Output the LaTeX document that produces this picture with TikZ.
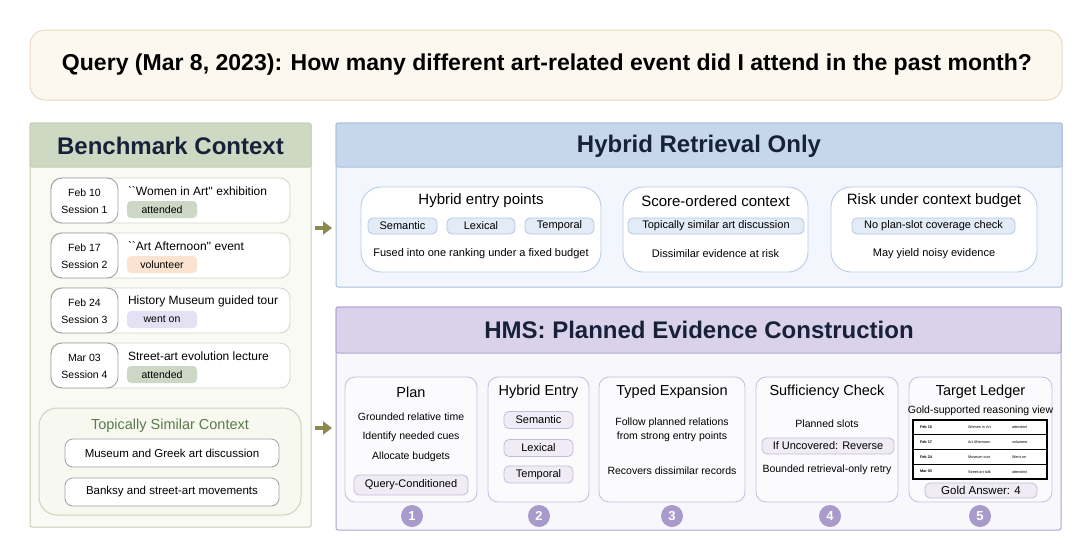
\documentclass[tikz,border=0pt]{standalone}
\usepackage{fontspec}
\usepackage{graphicx}
\setmainfont{Liberation Sans}[Ligatures=TeXOff]
\usetikzlibrary{arrows.meta}
\definecolor{qfill}{HTML}{FCF8F0}
\definecolor{qline}{HTML}{EAD9BF}
\definecolor{navy}{HTML}{17213A}
\definecolor{bhead}{HTML}{CDD9C2}
\definecolor{bline}{HTML}{C3CFB6}
\definecolor{bbody}{HTML}{F8FAF3}
\definecolor{cardline}{HTML}{D3DACB}
\definecolor{pillline}{HTML}{A0A0A0}
\definecolor{tagatt}{HTML}{CDD7C5}
\definecolor{tagvol}{HTML}{FBE3D0}
\definecolor{tagwent}{HTML}{E4E1F5}
\definecolor{topline}{HTML}{C9D4BD}
\definecolor{topfill}{HTML}{F7F9F1}
\definecolor{topgreen}{HTML}{5B7A49}
\definecolor{hhead}{HTML}{C6D6EB}
\definecolor{hline}{HTML}{A9C1DF}
\definecolor{hbody}{HTML}{F3F6FC}
\definecolor{hsub}{HTML}{B7CCE6}
\definecolor{hchip}{HTML}{E3EBF6}
\definecolor{hchipline}{HTML}{B2C7E3}
\definecolor{mhead}{HTML}{D9D2EA}
\definecolor{mline}{HTML}{AFA4CF}
\definecolor{mbody}{HTML}{F8F7FB}
\definecolor{msub}{HTML}{C9C0E0}
\definecolor{msubfill}{HTML}{FBFAFD}
\definecolor{mchip}{HTML}{EFECF5}
\definecolor{mchipline}{HTML}{C4BCDB}
\definecolor{mcirc}{HTML}{A89BCB}
\definecolor{arrowc}{HTML}{8B8A52}
\newcommand\bx[6]{\node[#2,anchor=north west,minimum width={(#5-#3)*1pt},minimum height={(#6-#4)*1pt}] (#1) at (#3,#4) {};}
\begin{document}
\begin{tikzpicture}[x=1pt,y=-1pt,
  every node/.style={inner sep=0pt,outer sep=0pt},
  headtitle/.style={font=\bfseries\fontsize{24}{28}\selectfont,text=navy},
  card/.style={draw=cardline,fill=white,line width=0.9pt,rounded corners=10pt},
  datepill/.style={draw=pillline,fill=white,line width=0.9pt,rounded corners=11pt},
  tagbox/.style={rounded corners=4pt,minimum width=70pt,minimum height=17pt,font=\fontsize{10.5}{12}\selectfont},
  simbox/.style={draw=pillline,fill=white,line width=0.8pt,rounded corners=8pt,minimum width=214pt,minimum height=28pt,font=\fontsize{11.5}{13}\selectfont},
  hsubbox/.style={draw=hsub,fill=white,line width=0.9pt,rounded corners=20pt},
  hchipbox/.style={draw=hchipline,fill=hchip,line width=0.8pt,rounded corners=5pt,minimum height=16pt,font=\fontsize{11}{13}\selectfont},
  subtitle/.style={font=\fontsize{15}{18}\selectfont},
  caption/.style={font=\fontsize{11}{13}\selectfont},
  msubbox/.style={draw=msub,fill=msubfill,line width=0.9pt,rounded corners=10pt},
  mchipbox/.style={draw=mchipline,fill=mchip,line width=0.8pt,rounded corners=5pt,minimum height=17pt,font=\fontsize{11}{13}\selectfont},
  stagetitle/.style={font=\fontsize{14.5}{17}\selectfont},
  stagetxt/.style={font=\fontsize{10.5}{14}\selectfont,align=center},
  numc/.style={circle,fill=mcirc,minimum size=22pt,text=white,font=\bfseries\fontsize{13}{15}\selectfont},
  ledg/.style={font=\fontsize{3.8}{4.5}\selectfont,anchor=west},
  flow/.style={draw=arrowc,line width=4pt,-{Triangle[length=9pt,width=13pt]}},
]
\useasboundingbox[fill=white] (0,0) rectangle (1080,560);

% Query
\bx{query}{draw=qline,fill=qfill,line width=1pt,rounded corners=15pt}{30}{30}{1062}{100}
\node (qtext) at (547,65) {\resizebox{970pt}{\height}{\bfseries\fontsize{23}{27}\selectfont Query (Mar 8, 2023): How many different art-related event did I attend in the past month?}};

% Benchmark panel
\bx{bench}{draw=bline,fill=bbody,line width=1pt,rounded corners=2pt}{30}{123}{311}{527}
\path[draw=bline,fill=bhead,line width=1pt,rounded corners=2pt] (bench.north west) rectangle (311,167);
\node[headtitle] (benchtitle) at (170.5,146) {Benchmark Context};

\foreach \i/\d/\t/\tg/\col in {1/Feb 10/{``Women in Art'' exhibition}/attended/tagatt,
  2/Feb 17/{``Art Afternoon'' event}/volunteer/tagvol,
  3/Feb 24/{History Museum guided tour}/went on/tagwent,
  4/Mar 03/{Street-art evolution lecture}/attended/tagatt}{
  \pgfmathsetmacro\y{178+55*(\i-1)}
  \bx{card\i}{card}{51}{\y}{290}{\y+45}
  \bx{dp\i}{datepill}{51}{\y}{118}{\y+45}
  \node[font=\fontsize{10.5}{12}\selectfont] (dt\i) at (84.5,\y+15) {\d};
  \node[font=\fontsize{10.5}{12}\selectfont] (ss\i) at (84.5,\y+32) {Session \i};
  \node[anchor=west,font=\fontsize{12}{14}\selectfont] (tt\i) at (128,\y+13) {\t};
  \node[tagbox,fill=\col] (tg\i) at (162,\y+31.5) {\tg};
}

\bx{topic}{draw=topline,fill=topfill,line width=1pt,rounded corners=18pt}{39}{408}{301}{515}
\node[font=\fontsize{14.5}{17}\selectfont,text=topgreen] (toptitle) at (170,426) {Topically Similar Context};
\node[simbox] (sim1) at (172,453) {Museum and Greek art discussion};
\node[simbox] (sim2) at (172,492) {Banksy and street-art movements};

% arrows
\coordinate (ar1a) at (315,228);
\coordinate (ar1b) at (332,228);
\coordinate (ar2a) at (315,428);
\coordinate (ar2b) at (332,428);
\draw[flow] (ar1a) -- (ar1b);
\draw[flow] (ar2a) -- (ar2b);

% Hybrid retrieval panel
\bx{hyb}{draw=hline,fill=hbody,line width=1pt,rounded corners=2pt}{336}{123}{1062}{287}
\path[draw=hline,fill=hhead,line width=1pt,rounded corners=2pt] (hyb.north west) rectangle (1062,167);
\node[headtitle] (hybtitle) at (699,146) {Hybrid Retrieval Only};

\bx{hb1}{hsubbox}{361}{187}{601}{272}
\bx{hb2}{hsubbox}{623}{187}{808}{272}
\bx{hb3}{hsubbox}{831}{187}{1037}{272}
\node[subtitle] (hb1t) at (481,201) {Hybrid entry points};
\node[subtitle] (hb2t) at (715.5,201) {Score-ordered context};
\node[subtitle] (hb3t) at (934,201) {Risk under context budget};
\node[hchipbox,minimum width=69pt] (hc1) at (402.5,226) {Semantic};
\node[hchipbox,minimum width=68pt] (hc2) at (481,226) {Lexical};
\node[hchipbox,minimum width=69pt] (hc3) at (559.5,226) {Temporal};
\node[hchipbox,minimum width=176pt] (hc4) at (716,226) {Topically similar art discussion};
\node[hchipbox,minimum width=163pt] (hc5) at (933.5,226) {No plan-slot coverage check};
\node[caption] (hcap1) at (481,254) {Fused into one ranking under a fixed budget};
\node[caption] (hcap2) at (715.5,254) {Dissimilar evidence at risk};
\node[caption] (hcap3) at (934,254) {May yield noisy evidence};

% HMS panel
\bx{hms}{draw=mline,fill=mbody,line width=1pt,rounded corners=2pt}{336}{307}{1061}{530}
\path[draw=mline,fill=mhead,line width=1pt,rounded corners=2pt] (hms.north west) rectangle (1061,353);
\node[headtitle] (hmstitle) at (699,330) {HMS: Planned Evidence Construction};

\bx{st1}{msubbox}{345}{377}{477}{502}
\bx{st2}{msubbox}{488}{377}{589}{502}
\bx{st3}{msubbox}{599}{377}{745}{502}
\bx{st4}{msubbox}{756}{377}{898}{502}
\bx{st5}{msubbox}{909}{377}{1052}{502}
\node[stagetitle] (st1t) at (411,392) {Plan};
\node[stagetitle] (st2t) at (538.5,392) {Hybrid Entry};
\node[stagetitle] (st3t) at (672,392) {Typed Expansion};
\node[stagetitle] (st4t) at (827,392) {Sufficiency Check};
\node[stagetitle] (st5t) at (980.5,392) {Target Ledger};

\node[stagetxt] (p1) at (411,417) {Grounded relative time};
\node[stagetxt] (p2) at (411,437) {Identify needed cues};
\node[stagetxt] (p3) at (411,457) {Allocate budgets};
\node[mchipbox,minimum width=114pt,minimum height=20pt] (pc) at (411,485) {Query-Conditioned};

\node[mchipbox,minimum width=69pt] (e1) at (538.5,420) {Semantic};
\node[mchipbox,minimum width=69pt] (e2) at (538.5,448) {Lexical};
\node[mchipbox,minimum width=69pt] (e3) at (538.5,474.5) {Temporal};

\node[stagetxt] (t1) at (672,430) {Follow planned relations\\from strong entry points};
\node[stagetxt] (t2) at (672,471) {Recovers dissimilar records};

\node[stagetxt] (s1) at (827,424) {Planned slots};
\node[mchipbox,minimum width=132pt,minimum height=16pt] (sc) at (828,446) {If Uncovered: Reverse};
\node[stagetxt] (s2) at (827,470) {Bounded retrieval-only retry};

\node[stagetxt] (l1) at (980.5,411) {Gold-supported reasoning view};
\foreach \r/\a/\b/\c in {0/Feb 10/Women in Art/attended,1/Feb 17/Art Afternoon/volunteer,2/Feb 24/Museum tour/Went on,3/Mar 03/Street-art talk/attended}{
  \pgfmathsetmacro\ry{420+14.75*\r}
  \bx{row\r}{draw=black,fill=white,line width=1.1pt}{913}{\ry}{1047}{\ry+14.75}
  \node[ledg,font=\bfseries\fontsize{3.8}{4.5}\selectfont] (la\r) at (920,\ry+7.4) {\a};
  \node[ledg] (lb\r) at (968,\ry+7.4) {\b};
  \node[ledg] (lc\r) at (1012,\ry+7.4) {\c};
}
\node[mchipbox,minimum width=112pt,minimum height=15pt,font=\fontsize{11.5}{13}\selectfont] (gold) at (981,490.5) {Gold Answer: 4};

\node[numc] (n1) at (412,516) {1};
\node[numc] (n2) at (539,516) {2};
\node[numc] (n3) at (672,516) {3};
\node[numc] (n4) at (830,516) {4};
\node[numc] (n5) at (980,516) {5};
\end{tikzpicture}
\end{document}
